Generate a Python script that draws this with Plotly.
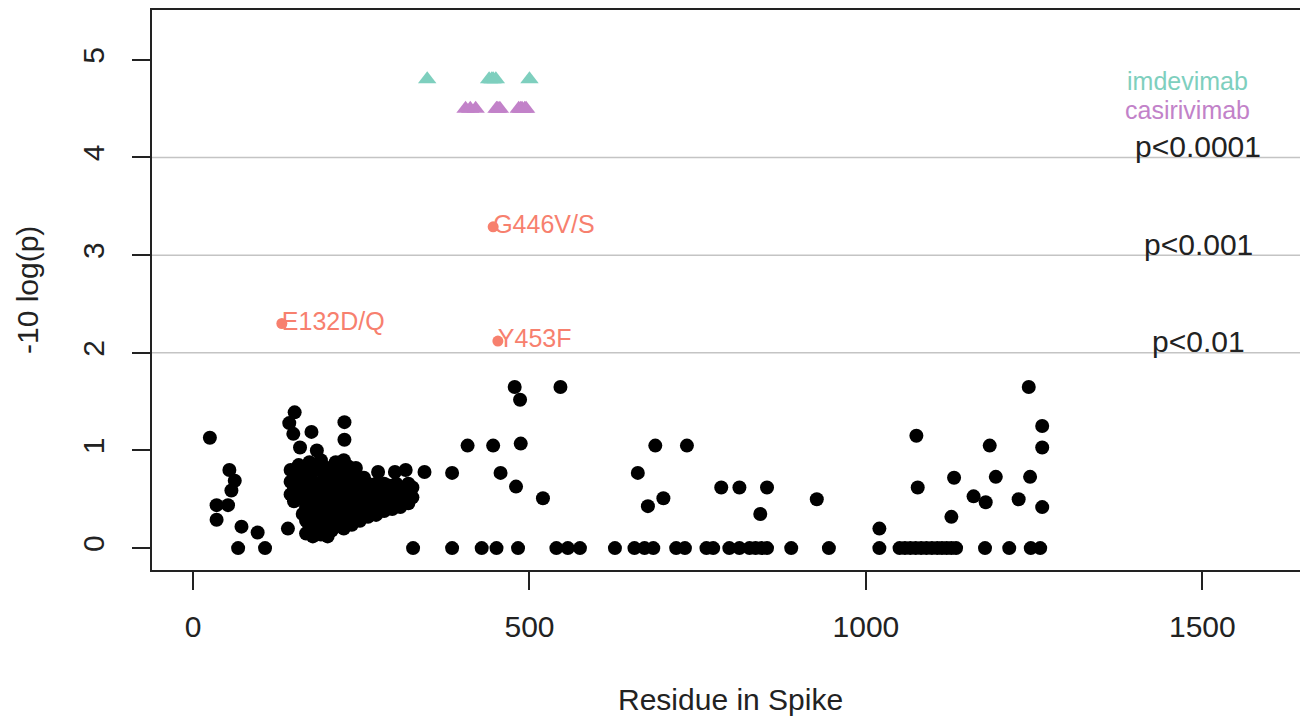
import plotly.graph_objects as go

# ---------------- data ----------------
# background (non-significant) sites: (residue, -10 log(p))
spike_points = [
    (25, 1.13), (35, 0.44), (35, 0.29), (52, 0.44), (54, 0.80), (57, 0.59), (62, 0.69),
    (67, 0.0), (72, 0.22), (96, 0.16), (107, 0.0),
    (141, 0.20), (143, 1.28), (149, 1.17), (151, 1.39), (159, 1.03), (176, 1.19), (184, 1.00),
    (225, 1.29), (225, 1.11),
    (145, 0.55), (145, 0.68), (145, 0.80),
    (150, 0.48), (150, 0.62), (150, 0.75),
    (157, 0.58), (157, 0.70), (157, 0.85),
    (163, 0.35), (163, 0.50), (163, 0.64), (163, 0.78),
    (168, 0.15), (168, 0.28), (168, 0.42), (168, 0.56),
    (173, 0.22), (173, 0.48), (173, 0.62), (173, 0.74), (173, 0.88),
    (178, 0.12), (178, 0.35), (178, 0.55), (178, 0.68),
    (184, 0.18), (184, 0.30), (184, 0.45), (184, 0.60), (184, 0.80),
    (190, 0.14), (190, 0.25), (190, 0.40), (190, 0.52), (190, 0.66), (190, 0.90),
    (195, 0.20), (195, 0.35), (195, 0.48), (195, 0.58), (195, 0.74),
    (200, 0.12), (200, 0.28), (200, 0.44), (200, 0.55), (200, 0.68), (200, 0.82),
    (206, 0.18), (206, 0.38), (206, 0.50), (206, 0.62), (206, 0.76),
    (212, 0.22), (212, 0.32), (212, 0.46), (212, 0.58), (212, 0.70), (212, 0.88),
    (218, 0.26), (218, 0.40), (218, 0.52), (218, 0.64), (218, 0.80),
    (224, 0.20), (224, 0.34), (224, 0.48), (224, 0.60), (224, 0.72), (224, 0.90),
    (230, 0.30), (230, 0.44), (230, 0.56), (230, 0.68), (230, 0.84),
    (236, 0.24), (236, 0.38), (236, 0.50), (236, 0.62), (236, 0.76),
    (242, 0.32), (242, 0.46), (242, 0.58), (242, 0.70), (242, 0.82),
    (248, 0.28), (248, 0.42), (248, 0.54), (248, 0.66),
    (254, 0.36), (254, 0.48), (254, 0.60), (254, 0.72),
    (260, 0.32), (260, 0.44), (260, 0.56), (260, 0.66),
    (266, 0.40), (266, 0.50), (266, 0.62),
    (272, 0.34), (272, 0.46), (272, 0.58), (272, 0.66),
    (278, 0.42), (278, 0.52), (278, 0.62),
    (284, 0.38), (284, 0.48), (284, 0.58), (284, 0.66),
    (290, 0.44), (290, 0.54), (290, 0.64),
    (296, 0.40), (296, 0.50), (296, 0.60),
    (302, 0.46), (302, 0.56), (302, 0.66),
    (308, 0.42), (308, 0.52), (308, 0.62),
    (314, 0.48), (314, 0.58),
    (320, 0.46), (320, 0.56), (320, 0.66),
    (326, 0.52), (326, 0.62),
    (275, 0.78), (300, 0.78), (316, 0.80), (327, 0.0), (344, 0.78), (385, 0.77), (385, 0.0),
    (408, 1.05), (429, 0.0), (446, 1.05), (451, 0.0), (457, 0.77), (478, 1.65), (480, 0.63),
    (483, 0.0), (486, 1.52), (487, 1.07), (520, 0.51), (540, 0.0), (546, 1.65), (557, 0.0),
    (575, 0.0), (627, 0.0), (656, 0.0), (661, 0.77), (671, 0.0), (676, 0.43), (684, 0.0),
    (687, 1.05), (699, 0.51), (718, 0.0), (731, 0.0), (734, 1.05), (763, 0.0), (773, 0.0),
    (785, 0.62), (797, 0.0), (812, 0.62), (812, 0.0), (827, 0.0), (836, 0.0), (843, 0.35),
    (845, 0.0), (853, 0.62), (853, 0.0), (889, 0.0), (927, 0.50), (945, 0.0),
    (1020, 0.20), (1020, 0.0), (1050, 0.0), (1058, 0.0), (1066, 0.0), (1074, 0.0), (1075, 1.15),
    (1077, 0.62), (1082, 0.0), (1090, 0.0), (1098, 0.0), (1106, 0.0), (1113, 0.0), (1120, 0.0),
    (1127, 0.0), (1127, 0.32), (1131, 0.72), (1134, 0.0), (1160, 0.53), (1177, 0.0), (1178, 0.47),
    (1184, 1.05), (1193, 0.73), (1213, 0.0), (1227, 0.50), (1242, 1.65), (1244, 0.73),
    (1245, 0.0), (1259, 0.0), (1262, 1.25), (1262, 1.03), (1262, 0.42),
]

mut_labels = ["E132D/Q", "G446V/S", "Y453F"]
mut_residue = [132, 446, 453]
mut_score = [2.30, 3.29, 2.12]

imdevimab_residue = [348, 440, 444, 446, 450, 500]
imdevimab_level = 4.8
casirivimab_residue = [405, 412, 420, 451, 453, 456, 484, 487, 489, 493, 495]
casirivimab_level = 4.5

threshold_values = [2, 3, 4]
threshold_labels = ["p<0.01", "p<0.001", "p<0.0001"]
label_x = 1500

x_ticks = [0, 500, 1000, 1500]
y_ticks = [0, 1, 2, 3, 4, 5]

# ---------------- style ----------------
FONT = "Liberation Sans, Arial, sans-serif"
INK = "#222222"
TEAL = "#7ECFBE"
PURPLE = "#C282C9"
SALMON = "#F7806E"

fig = go.Figure()

fig.add_trace(go.Scatter(
    x=[p[0] for p in spike_points], y=[p[1] for p in spike_points],
    mode="markers", marker=dict(color="black", size=14, line=dict(width=0)),
    showlegend=False, hoverinfo="x+y"))

fig.add_trace(go.Scatter(
    x=mut_residue, y=mut_score, mode="markers",
    marker=dict(color=SALMON, size=11, line=dict(width=0)), showlegend=False))
fig.add_trace(go.Scatter(
    x=mut_residue, y=mut_score, mode="text", text=mut_labels,
    textposition="middle right", textfont=dict(family=FONT, size=25, color=SALMON),
    showlegend=False, hoverinfo="skip"))

fig.add_trace(go.Scatter(
    x=imdevimab_residue, y=[imdevimab_level] * len(imdevimab_residue), mode="markers",
    marker=dict(symbol="triangle-up", color=TEAL, size=16, line=dict(width=0)),
    showlegend=False))
fig.add_trace(go.Scatter(
    x=casirivimab_residue, y=[casirivimab_level] * len(casirivimab_residue), mode="markers",
    marker=dict(symbol="triangle-up", color=PURPLE, size=16, line=dict(width=0)),
    showlegend=False))

for v in threshold_values:
    fig.add_shape(type="line", xref="paper", x0=0, x1=1, yref="y", y0=v, y1=v,
                  line=dict(color="#C4C4C4", width=1.5), layer="below")

annotations = []
for v, t in zip(threshold_values, threshold_labels):
    annotations.append(dict(x=label_x, y=v, text=t, showarrow=False, xanchor="center",
                            yanchor="middle", yshift=11, xshift=-4,
                            font=dict(family=FONT, size=30, color=INK)))
annotations.append(dict(x=label_x, y=imdevimab_level, text="imdevimab", showarrow=False,
                        xanchor="center", yanchor="middle", yshift=-2, xshift=-15,
                        font=dict(family=FONT, size=25, color=TEAL)))
annotations.append(dict(x=label_x, y=casirivimab_level, text="casirivimab", showarrow=False,
                        xanchor="center", yanchor="middle", yshift=-1, xshift=-15,
                        font=dict(family=FONT, size=25, color=PURPLE)))
annotations.append(dict(xref="paper", yref="paper", x=0.5, y=-0.2313, text="Residue in Spike",
                        showarrow=False, xanchor="center", yanchor="middle",
                        font=dict(family=FONT, size=30, color=INK)))
annotations.append(dict(xref="paper", yref="paper", x=-0.1081, y=0.5, text="-10 log(p)",
                        showarrow=False, xanchor="center", yanchor="middle", textangle=-90,
                        font=dict(family=FONT, size=30, color=INK)))

fig.update_layout(
    width=1300, height=712,
    margin=dict(l=144, r=0, t=0, b=150),
    paper_bgcolor="white", plot_bgcolor="white",
    font=dict(family=FONT, size=30, color=INK),
    annotations=annotations,
    xaxis=dict(range=[-61, 1657], tickvals=x_ticks, ticktext=[str(v) for v in x_ticks],
               showgrid=False, zeroline=False, showline=True, mirror=True,
               linecolor=INK, linewidth=1.5, ticks="outside", ticklen=18, tickwidth=1.5,
               tickcolor=INK, tickfont=dict(family=FONT, size=30, color=INK),
               ticklabelstandoff=11),
    yaxis=dict(range=[-0.224, 5.51], tickvals=y_ticks, ticktext=[str(v) for v in y_ticks],
               showgrid=False, zeroline=False, showline=True, mirror=False,
               linecolor=INK, linewidth=1.5, ticks="outside", ticklen=18, tickwidth=1.5,
               tickcolor=INK, tickangle=-90, tickfont=dict(family=FONT, size=30, color=INK),
               ticklabelstandoff=16),
)

fig.write_html("out.html")
